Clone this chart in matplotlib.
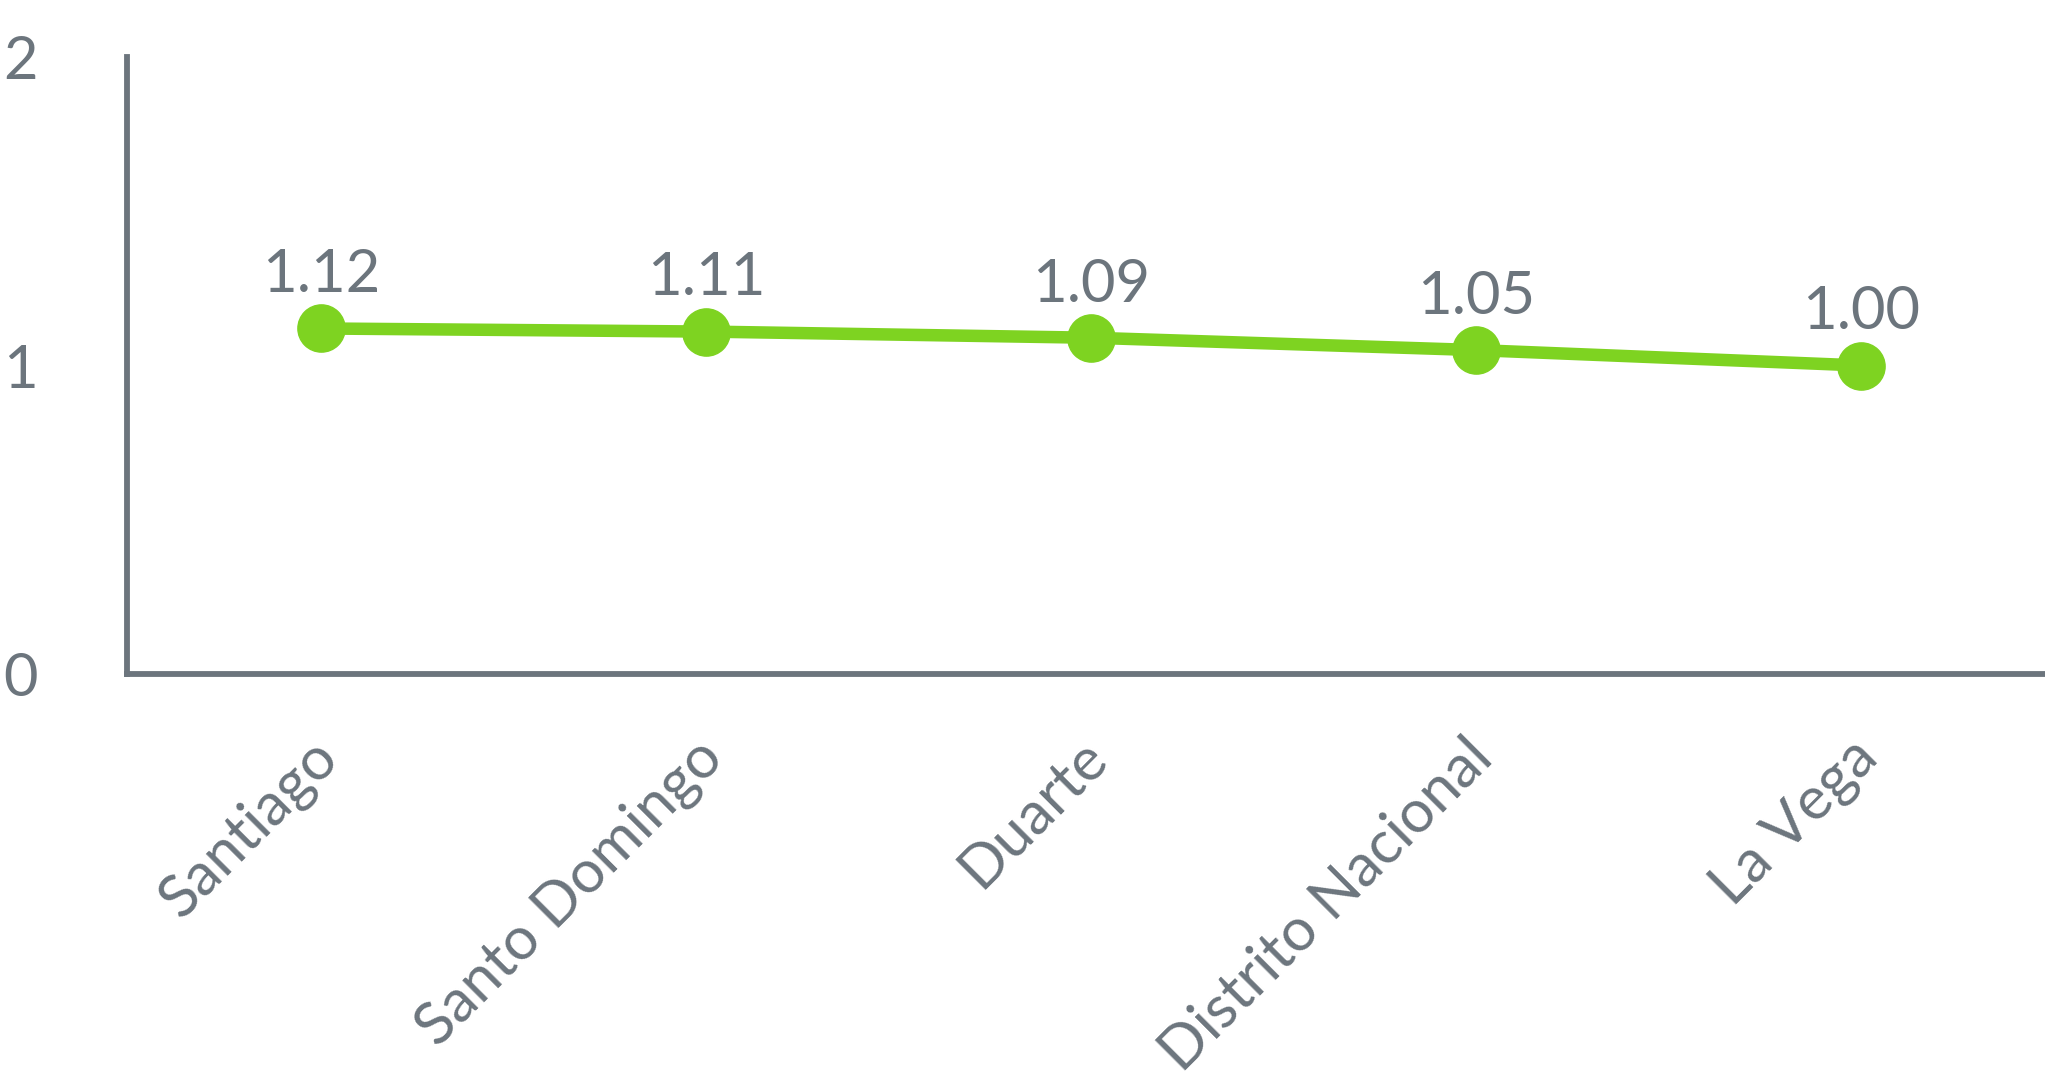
import matplotlib
matplotlib.use("Agg")
import matplotlib.pyplot as plt
import matplotlib.transforms as mtransforms

categories = ["Santiago", "Santo Domingo", "Duarte", "Distrito Nacional", "La Vega"]
values = [1.12, 1.11, 1.09, 1.05, 1.00]
value_labels = ["1.12", "1.11", "1.09", "1.05", "1.00"]
yticks = [0, 1, 2]

GREY = "#6c757d"
GREEN = "#7ed321"

plt.rcParams["font.family"] = ["Lato", "DejaVu Sans"]

W, H = 2045, 1080
fig = plt.figure(figsize=(W / 100, H / 100), dpi=100)
left = 127 / W
bottom = 1 - 674 / H
height = (674 - 57) / H
width = 1925 / W
ax = fig.add_axes([left, bottom, width, height])

x = list(range(len(categories)))
ax.plot(x, values, color=GREEN, lw=9, marker="o", markersize=34,
        markerfacecolor=GREEN, markeredgecolor=GREEN, solid_capstyle="butt", zorder=3)

for xi, v, lab in zip(x, values, value_labels):
    ax.annotate(lab, (xi, v), xytext=(0, 26), textcoords="offset points",
                ha="center", va="baseline", fontsize=43, color=GREY)

ax.set_xlim(-0.505, 4.495)
ax.set_ylim(0, 2)
ax.set_yticks(yticks)
ax.set_yticklabels([str(t) for t in yticks])
ax.set_xticks(x)
ax.set_xticklabels(categories, rotation=45, ha="right", va="center",
                   rotation_mode="anchor")

ax.tick_params(axis="y", length=0, pad=64, labelsize=43, labelcolor=GREY)
ax.tick_params(axis="x", length=0, pad=50, labelsize=43, labelcolor=GREY)

offset = mtransforms.ScaledTranslation(7 / 100, -5 / 100, fig.dpi_scale_trans)
for lbl in ax.get_xticklabels():
    lbl.set_transform(lbl.get_transform() + offset)

for s in ["top", "right"]:
    ax.spines[s].set_visible(False)
for s in ["left", "bottom"]:
    ax.spines[s].set_color(GREY)
    ax.spines[s].set_linewidth(4.2)

fig.savefig("out.png", dpi=100)
